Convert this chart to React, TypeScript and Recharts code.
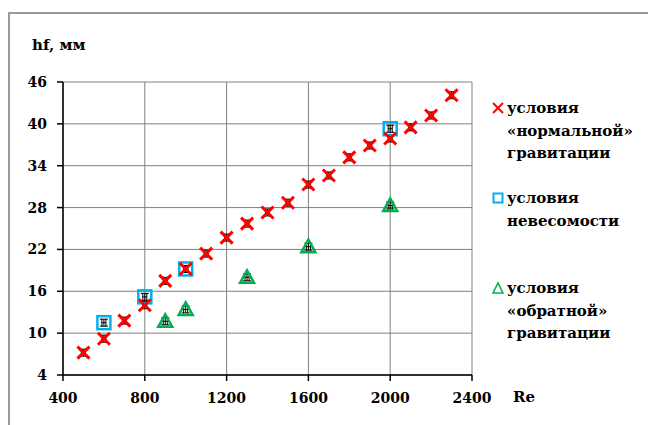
import {
  ScatterChart,
  Scatter,
  XAxis,
  YAxis,
  CartesianGrid,
  ErrorBar,
} from 'recharts';

// Re values and film thickness hf (mm)
const reNormal = [500, 600, 700, 800, 900, 1000, 1100, 1200, 1300, 1400, 1500, 1600, 1700, 1800, 1900, 2000, 2100, 2200, 2300];
const hNormal = [7.2, 9.2, 11.8, 14.0, 17.5, 19.2, 21.4, 23.7, 25.7, 27.3, 28.7, 31.3, 32.6, 35.2, 36.9, 37.9, 39.5, 41.2, 44.1];

const reZeroG = [600, 800, 1000, 2000];
const hZeroG = [11.5, 15.2, 19.2, 39.3];

const reReverse = [900, 1000, 1300, 1600, 2000];
const hReverse = [11.7, 13.4, 18.0, 22.4, 28.3];

const xTicks = [400, 800, 1200, 1600, 2000, 2400];
const yTicks = [4, 10, 16, 22, 28, 34, 40, 46];

const legendItems = [
  { key: 'normal', lines: ['условия', '«нормальной»', 'гравитации'] },
  { key: 'zero', lines: ['условия', 'невесомости'] },
  { key: 'reverse', lines: ['условия', '«обратной»', 'гравитации'] },
];

const FONT = '"DejaVu Serif", serif';

const toPoints = (xs: number[], ys: number[]) =>
  xs.map((re, i) => ({ re, h: ys[i], ex: 10, ey: 0.5 }));

const normalData = toPoints(reNormal, hNormal);
const zeroData = toPoints(reZeroG, hZeroG);
const reverseData = toPoints(reReverse, hReverse);

function AxisTick(props: any) {
  const { x, y, payload, textAnchor, verticalAnchor } = props;
  const dy = verticalAnchor === 'start' ? '0.71em' : '0.36em';
  return (
    <text
      x={x}
      y={y}
      dy={dy}
      textAnchor={textAnchor}
      style={{ fontFamily: FONT }}
      fontWeight="bold"
      fontSize={14}
      fill="#000"
    >
      {payload.value}
    </text>
  );
}

function Cross({ cx, cy }: any) {
  const s = 6;
  return (
    <g stroke="#ff0000" strokeWidth={3}>
      <line x1={cx - s} y1={cy - s} x2={cx + s} y2={cy + s} />
      <line x1={cx - s} y1={cy + s} x2={cx + s} y2={cy - s} />
    </g>
  );
}

function Square({ cx, cy }: any) {
  const s = 6.5;
  return (
    <rect x={cx - s} y={cy - s} width={s * 2} height={s * 2} fill="none" stroke="#00b0f0" strokeWidth={2.5} />
  );
}

function Triangle({ cx, cy }: any) {
  const w = 7;
  return (
    <path
      d={`M${cx},${cy - 7} L${cx + w},${cy + 5.5} L${cx - w},${cy + 5.5} Z`}
      fill="none"
      stroke="#00b050"
      strokeWidth={2.5}
    />
  );
}

function LegendIcon({ kind }: { kind: string }) {
  return (
    <svg width={12} height={12} style={{ position: 'absolute', left: 0, top: 5 }}>
      {kind === 'normal' && (
        <g stroke="#ff0000" strokeWidth={2}>
          <line x1={1} y1={1} x2={11} y2={11} />
          <line x1={1} y1={11} x2={11} y2={1} />
        </g>
      )}
      {kind === 'zero' && <rect x={1.5} y={1.5} width={9} height={9} fill="none" stroke="#00b0f0" strokeWidth={2} />}
      {kind === 'reverse' && <path d="M6,1 L11,11 L1,11 Z" fill="none" stroke="#00b050" strokeWidth={1.6} />}
    </svg>
  );
}

const textStyle = {
  fontFamily: FONT,
  fontWeight: 'bold' as const,
  fontSize: 15,
  whiteSpace: 'nowrap' as const,
};

function LegendBox() {
  const tops = [0, 90, 180];
  return (
    <div style={{ position: 'absolute', left: 492, top: 97, width: 150, height: 260 }}>
      {legendItems.map((item, i) => (
        <div key={item.key} style={{ position: 'absolute', left: 0, top: tops[i] }}>
          <LegendIcon kind={item.key} />
          <div style={{ ...textStyle, position: 'absolute', left: 15, top: 0, lineHeight: '22.5px' }}>
            {item.lines.map((l) => (
              <div key={l}>{l}</div>
            ))}
          </div>
        </div>
      ))}
    </div>
  );
}

export default function App() {
  return (
    <div
      style={{
        position: 'absolute',
        left: 0,
        top: 0,
        width: 648,
        height: 425,
        overflow: 'hidden',
        background: '#fff',
        fontFamily: FONT,
      }}
    >
      <div
        style={{
          position: 'absolute',
          left: 8,
          top: 12,
          width: 900,
          height: 700,
          borderLeft: '2px solid #999',
          borderTop: '2px solid #999',
        }}
      />
      <div style={{ ...textStyle, position: 'absolute', left: 32, top: 36 }}>hf, мм</div>
      <div style={{ ...textStyle, position: 'absolute', left: 513, top: 388 }}>Re</div>
      <ScatterChart
        width={648}
        height={425}
        margin={{ top: 82, right: 176, bottom: 20, left: 13 }}
        style={{ position: 'absolute', left: 0, top: 0 }}
      >
        <CartesianGrid stroke="#808080" strokeWidth={1} />
        <XAxis
          type="number"
          dataKey="re"
          domain={[400, 2400]}
          ticks={xTicks}
          interval={0}
          height={30}
          tickSize={6}
          tickMargin={12}
          axisLine={{ stroke: '#000', strokeWidth: 1.5 }}
          tickLine={{ stroke: '#000', strokeWidth: 1.5 }}
          tick={<AxisTick />}
        />
        <YAxis
          type="number"
          dataKey="h"
          domain={[4, 46]}
          ticks={yTicks}
          interval={0}
          width={50}
          tickSize={6}
          tickMargin={10}
          axisLine={{ stroke: '#000', strokeWidth: 1.5 }}
          tickLine={{ stroke: '#000', strokeWidth: 1.5 }}
          tick={<AxisTick />}
        />
        <Scatter name="невесомость" data={zeroData} shape={<Square />} isAnimationActive={false}>
          <ErrorBar dataKey="ey" direction="y" width={4} stroke="#000" strokeWidth={1} />
          <ErrorBar dataKey="ex" direction="x" width={4} stroke="#000" strokeWidth={1} />
        </Scatter>
        <Scatter name="обратная" data={reverseData} shape={<Triangle />} isAnimationActive={false}>
          <ErrorBar dataKey="ey" direction="y" width={4} stroke="#000" strokeWidth={1} />
          <ErrorBar dataKey="ex" direction="x" width={4} stroke="#000" strokeWidth={1} />
        </Scatter>
        <Scatter name="нормальная" data={normalData} shape={<Cross />} isAnimationActive={false}>
          <ErrorBar dataKey="ey" direction="y" width={4} stroke="#000" strokeWidth={1} />
          <ErrorBar dataKey="ex" direction="x" width={4} stroke="#000" strokeWidth={1} />
        </Scatter>
      </ScatterChart>
      <LegendBox />
    </div>
  );
}
